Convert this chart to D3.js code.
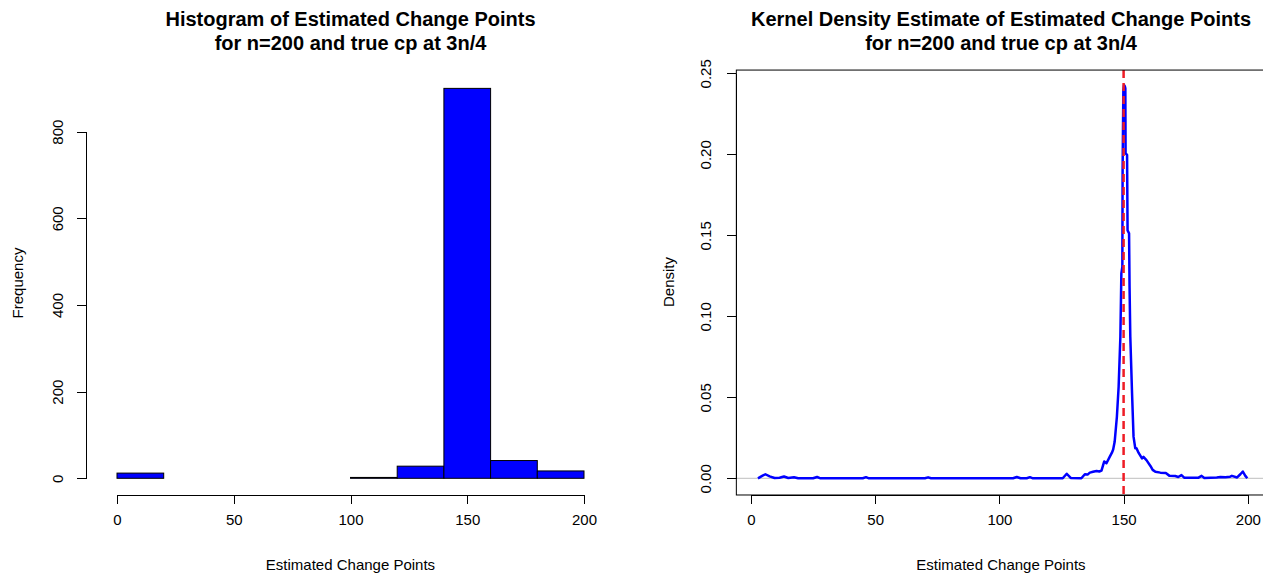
<!DOCTYPE html>
<meta charset="utf-8">
<style>
body { margin: 0; background: #fff; }
text { font-family: "Liberation Sans", Arial, sans-serif; fill: #000; }
.axis path, .axis line { stroke: #000; shape-rendering: crispEdges; }
</style>
<svg id="chart" width="1263" height="574"></svg>
<script src="https://d3js.org/d3.v7.min.js"></script>
<script>

// histogram counts, bins of width 20
var binEdges = [0, 20, 40, 60, 80, 100, 120, 140, 160, 180, 200];
var binCounts = [12, 0, 0, 0, 0, 2, 28, 900, 41, 17];
var freqTicks = [0, 200, 400, 600, 800];
var cpTicks = [0, 50, 100, 150, 200];

// kernel density curve
var densX = [2.8, 4.5, 5.8, 7.5, 9.5, 11.5, 13.3, 15, 17.3, 19, 25, 26.6, 28, 45, 46.3, 47.5,
  70, 71.3, 72.5, 105.5, 107, 108.5, 111, 112.3, 113.5, 125.5, 127.1, 128.7, 133, 134.4,
  135.5, 136.4, 137.7, 139.1, 140.2, 141.1, 142.2, 143.1, 144.4, 145.3, 145.8, 146.4,
  147.3, 148, 148.7, 149.1, 149.5, 149.6, 149.9, 150.15, 150.5, 150.7, 150.8, 151.4,
  151.6, 152.2, 152.4, 152.7, 153.4, 154, 154.7, 155.2, 156, 157.4, 158, 159.2, 160.8,
  161.7, 162.8, 164.8, 167, 168.5, 170.8, 172, 173.3, 174.5, 180, 181.4, 182.5, 187.5,
  189, 191, 192.9, 193.6, 195.7, 197, 198, 199, 199.8];
var densY = [0, 0.0015, 0.0025, 0.0012, 0.0002, 0.0003, 0.0011, 0.0002, 0.0006, 0, 0, 0.0008, 0, 0, 0.0007, 0,
  0, 0.0006, 0, 0, 0.0008, 0, 0, 0.0007, 0, 0, 0.0028, 0.0002, 0, 0.0025,
  0.0023, 0.0035, 0.004, 0.0045, 0.0042, 0.0048, 0.0104, 0.0093, 0.0132, 0.0158, 0.0178, 0.0225,
  0.038, 0.0565, 0.0874, 0.1265, 0.1306, 0.19, 0.2396, 0.2428, 0.242, 0.2407, 0.2006, 0.1996,
  0.153, 0.1512, 0.118, 0.0874, 0.0525, 0.0257, 0.0185, 0.0185, 0.0158, 0.0123, 0.0132, 0.0112, 0.0076,
  0.0052, 0.004, 0.0035, 0.0032, 0.0015, 0.0014, 0.0008, 0.002, 0.0003, 0.0003, 0.0015, 0.0002, 0.0005,
  0.0008, 0.0006, 0.001, 0.0015, 0.0005, 0.0025, 0.0042, 0.0015, 0];
var densTicks = [0, 0.05, 0.10, 0.15, 0.20, 0.25];
var trueCp = 150;

var svg = d3.select("#chart");

// ---------- left: histogram ----------
var xL = d3.scaleLinear().domain([0, 200]).range([117, 584]);
var yL = d3.scaleLinear().domain([0, 800]).range([478.3, 131.7]);

var bins = binCounts.map(function(c, i) { return {x0: binEdges[i], x1: binEdges[i + 1], n: c}; });

svg.append("g")
  .selectAll("rect")
  .data(bins)
  .enter().append("rect")
    .attr("x", function(d) { return xL(d.x0); })
    .attr("y", function(d) { return yL(d.n); })
    .attr("width", function(d) { return xL(d.x1) - xL(d.x0); })
    .attr("height", function(d) { return yL(0) - yL(d.n); })
    .attr("fill", "#0000ff")
    .attr("stroke", "#000")
    .attr("stroke-width", 1);

svg.append("g")
    .attr("class", "axis")
    .attr("transform", "translate(86,0)")
    .call(d3.axisLeft(yL).tickValues(freqTicks).tickSize(9).tickSizeOuter(0).tickFormat(d3.format("d")))
  .selectAll(".tick text")
    .attr("x", null)
    .attr("text-anchor", "middle")
    .attr("dy", "0.35em")
    .attr("transform", "translate(-28,0) rotate(-90)")
    .attr("font-size", 15);

svg.append("g")
    .attr("class", "axis")
    .attr("transform", "translate(0,495)")
    .call(d3.axisBottom(xL).tickValues(cpTicks).tickSize(9).tickSizeOuter(0).tickPadding(10))
  .selectAll(".tick text")
    .attr("font-size", 15);

svg.selectAll(".axis text").attr("font-family", "Liberation Sans, Arial, sans-serif");

svg.append("text")
    .attr("transform", "translate(18,283) rotate(-90)")
    .attr("dy", "0.35em")
    .attr("text-anchor", "middle")
    .attr("font-size", 15)
    .text("Frequency");

svg.append("text")
    .attr("x", 350.5).attr("y", 570)
    .attr("text-anchor", "middle")
    .attr("font-size", 15)
    .text("Estimated Change Points");

svg.append("text")
    .attr("x", 350.5).attr("y", 26)
    .attr("text-anchor", "middle")
    .attr("font-size", 20).attr("font-weight", "bold")
    .text("Histogram of Estimated Change Points");
svg.append("text")
    .attr("x", 350.5).attr("y", 50)
    .attr("text-anchor", "middle")
    .attr("font-size", 20).attr("font-weight", "bold")
    .text("for n=200 and true cp at 3n/4");

// ---------- right: kernel density ----------
var xR = d3.scaleLinear().domain([0, 200]).range([751, 1247.8]);
var yR = d3.scaleLinear().domain([0, 0.25]).range([478.3, 73.3]);
var box = {x0: xR(-5.9), x1: xR(207.2), y0: yR(0.252), y1: yR(-0.0103)};

svg.append("line")
    .attr("x1", box.x0).attr("x2", box.x1)
    .attr("y1", yR(0)).attr("y2", yR(0))
    .attr("stroke", "#bebebe").attr("stroke-width", 1);

var pts = densX.map(function(x, i) { return [x, densY[i]]; });
svg.append("path")
    .datum(pts)
    .attr("fill", "none")
    .attr("stroke", "#0000ff")
    .attr("stroke-width", 2.5)
    .attr("stroke-linejoin", "round")
    .attr("d", d3.line().x(function(d) { return xR(d[0]); }).y(function(d) { return yR(d[1]); }));

svg.append("line")
    .attr("x1", xR(trueCp)).attr("x2", xR(trueCp))
    .attr("y1", box.y0).attr("y2", box.y1)
    .attr("stroke", "#ee1c25").attr("stroke-width", 2.5)
    .attr("stroke-dasharray", "8,5");

svg.append("rect")
    .attr("x", box.x0).attr("y", box.y0)
    .attr("width", box.x1 - box.x0).attr("height", box.y1 - box.y0)
    .attr("fill", "none").attr("stroke", "#000").attr("stroke-width", 1);

svg.append("g")
    .attr("class", "axis")
    .attr("transform", "translate(" + box.x0 + ",0)")
    .call(d3.axisLeft(yR).tickValues(densTicks).tickSize(9).tickSizeOuter(0).tickFormat(d3.format(".2f")))
  .selectAll(".tick text")
    .attr("x", null)
    .attr("text-anchor", "middle")
    .attr("dy", "0.35em")
    .attr("transform", "translate(-31,0) rotate(-90)")
    .attr("font-size", 15);

svg.append("g")
    .attr("class", "axis")
    .attr("transform", "translate(0," + box.y1 + ")")
    .call(d3.axisBottom(xR).tickValues(cpTicks).tickSize(9).tickSizeOuter(0).tickPadding(10))
  .selectAll(".tick text")
    .attr("font-size", 15);

svg.selectAll(".axis .domain").filter(function(d, i) { return false; });
svg.selectAll(".axis text").attr("font-family", "Liberation Sans, Arial, sans-serif");

svg.append("text")
    .attr("transform", "translate(669,282) rotate(-90)")
    .attr("dy", "0.35em")
    .attr("text-anchor", "middle")
    .attr("font-size", 15)
    .text("Density");

svg.append("text")
    .attr("x", 1001).attr("y", 570)
    .attr("text-anchor", "middle")
    .attr("font-size", 15)
    .text("Estimated Change Points");

svg.append("text")
    .attr("x", 1001).attr("y", 26)
    .attr("text-anchor", "middle")
    .attr("font-size", 20).attr("font-weight", "bold")
    .text("Kernel Density Estimate of Estimated Change Points");
svg.append("text")
    .attr("x", 1001).attr("y", 50)
    .attr("text-anchor", "middle")
    .attr("font-size", 20).attr("font-weight", "bold")
    .text("for n=200 and true cp at 3n/4");

</script>
